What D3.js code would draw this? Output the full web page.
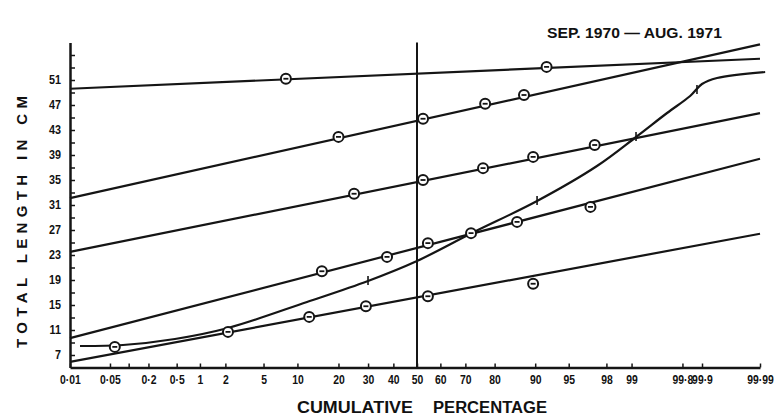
<!DOCTYPE html>
<html>
<head>
<meta charset="utf-8">
<style>
  body { margin: 0; background: #fff; }
  svg text { font-family: "Liberation Sans", Arial, sans-serif; font-weight: bold; fill: #111; }
</style>
</head>
<body>
<svg id="chart" width="780" height="415"></svg>
<script src="https://d3js.org/d3.v7.min.js"></script>
<script>
// probability axis: tick positions (percent) and the printed labels
var xTicks  = [0.01, 0.05, 0.1, 0.2, 0.5, 1, 2, 5, 10, 20, 30, 40, 50, 60, 70, 80, 90, 95, 98, 99, 99.8, 99.9, 99.99];
var xLabels = ["0·01", "0·05", "", "0·2", "0·5", "1", "2", "5", "10", "20", "30", "40", "50", "60", "70", "80", "90", "95", "98", "99", "99·8", "99·9", "99·99"];

// length axis (cm)
var yTicks  = [7, 9, 11, 13, 15, 17, 19, 21, 23, 25, 27, 29, 31, 33, 35, 37, 39, 41, 43, 45, 47, 49, 51, 53, 55];
var yLabels = [7, 11, 15, 19, 23, 27, 31, 35, 39, 43, 47, 51];

// fitted straight lines: length at 0.01 % and at 99.99 %
var fitEnds = [0.01, 99.99];
var fitA = [49.6, 54.4];
var fitB = [32.1, 56.7];
var fitC = [23.5, 45.7];
var fitD = [9.7, 38.4];
var fitE = [5.9, 26.4];

// observed points [percent, cm] for each line
var ptsA = [[8, 51.2], [92, 53.1]];
var ptsB = [[20, 41.9], [52.6, 44.8], [77, 47.2], [87.7, 48.6]];
var ptsC = [[25, 32.8], [52.6, 35.0], [76.3, 36.9], [89.6, 38.7], [97.3, 40.6]];
var ptsD = [[15.4, 20.4], [37.4, 22.7], [54.7, 24.9], [72.1, 26.5], [86.1, 28.3], [97.0, 30.7]];
var ptsE = [[0.06, 8.3], [2.14, 10.7], [12.4, 13.1], [29.2, 14.8], [54.7, 16.4], [89.6, 18.4]];

// the pooled S-shaped curve
var curvePct = [0.0152, 0.0814, 0.474, 2.14, 11.92, 29.98, 50, 72.46, 90.35, 97.45, 99.122, 99.665, 99.847, 99.900, 99.943, 99.992];
var curveCm  = [8.44, 8.6, 9.56, 11.32, 15.48, 18.84, 22.04, 26.52, 31.64, 37.24, 41.88, 45.72, 48.44, 50.36, 51.32, 52.28];
// little cross strokes on the curve
var markPct = [29.98, 90.35, 99.122, 99.88];
var markCm  = [18.84, 31.64, 41.88, 49.4];

// inverse normal (Acklam), turns a probability into a z value
function probit(p) {
  var a = [-3.969683028665376e+01, 2.209460984245205e+02, -2.759285104469687e+02, 1.383577518672690e+02, -3.066479806614716e+01, 2.506628277459239e+00];
  var b = [-5.447609879822406e+01, 1.615858368580409e+02, -1.556989798598866e+02, 6.680131188771972e+01, -1.328068155288572e+01];
  var c = [-7.784894002430293e-03, -3.223964580411365e-01, -2.400758277161838e+00, -2.549732539343734e+00, 4.374664141464968e+00, 2.938163982698783e+00];
  var d = [7.784695709041462e-03, 3.224671290700398e-01, 2.445134137142996e+00, 3.754408661907416e+00];
  var pl = 0.02425, q, r;
  if (p < pl) {
    q = Math.sqrt(-2 * Math.log(p));
    return (((((c[0]*q+c[1])*q+c[2])*q+c[3])*q+c[4])*q+c[5]) / ((((d[0]*q+d[1])*q+d[2])*q+d[3])*q+1);
  }
  if (p > 1 - pl) {
    q = Math.sqrt(-2 * Math.log(1 - p));
    return -(((((c[0]*q+c[1])*q+c[2])*q+c[3])*q+c[4])*q+c[5]) / ((((d[0]*q+d[1])*q+d[2])*q+d[3])*q+1);
  }
  q = p - 0.5; r = q * q;
  return (((((a[0]*r+a[1])*r+a[2])*r+a[3])*r+a[4])*r+a[5])*q / (((((b[0]*r+b[1])*r+b[2])*r+b[3])*r+b[4])*r+1);
}

var svg = d3.select("#chart");

var x = d3.scaleLinear().domain([probit(0.0001), 0, probit(0.9999)]).range([70, 417, 760]);
var y = d3.scaleLinear().domain([5, 57]).range([367.5, 42.5]);
function px(pct) { return x(probit(pct / 100)); }

var ink = "#151515";

// x axis, ticks pointing up into the plot
var xAxis = svg.append("g")
  .attr("transform", "translate(0," + y(5) + ")")
  .call(d3.axisBottom(x)
    .tickValues(xTicks.map(function(p) { return probit(p / 100); }))
    .tickFormat(function(d, i) { return xLabels[i]; })
    .tickSizeInner(-4).tickSizeOuter(0).tickPadding(7));
xAxis.select(".domain").attr("stroke", ink).attr("stroke-width", 2.5);
xAxis.selectAll(".tick line").attr("stroke", ink).attr("stroke-width", 1.5);
xAxis.selectAll(".tick text")
  .attr("font-size", 13).attr("font-family", null)
  .attr("transform", "scale(0.8,1)");

// y axis, ticks pointing right
var yAxis = svg.append("g")
  .attr("transform", "translate(70,0)")
  .call(d3.axisLeft(y)
    .tickValues(yTicks)
    .tickFormat(function(d) { return yLabels.indexOf(d) >= 0 ? d : ""; })
    .tickSizeInner(-5).tickSizeOuter(0).tickPadding(10));
yAxis.select(".domain").attr("stroke", ink).attr("stroke-width", 2.5);
yAxis.selectAll(".tick line").attr("stroke", ink).attr("stroke-width", 1.5);
yAxis.selectAll(".tick text")
  .attr("font-size", 12).attr("font-family", null)
  .attr("transform", "scale(0.9,1)");

// 50 % line
svg.append("line")
  .attr("x1", px(50)).attr("x2", px(50))
  .attr("y1", y(57)).attr("y2", y(5))
  .attr("stroke", ink).attr("stroke-width", 2);

var line = d3.line()
  .x(function(d) { return px(d[0]); })
  .y(function(d) { return y(d[1]); });

// fitted lines
[fitA, fitB, fitC, fitD, fitE].forEach(function(f) {
  svg.append("path")
    .datum([[fitEnds[0], f[0]], [fitEnds[1], f[1]]])
    .attr("d", line)
    .attr("fill", "none").attr("stroke", ink).attr("stroke-width", 2.2);
});

// S curve
var curveData = curvePct.map(function(p, i) { return [p, curveCm[i]]; });
svg.append("path")
  .datum(curveData)
  .attr("d", line.curve(d3.curveCatmullRom.alpha(0.5)))
  .attr("fill", "none").attr("stroke", ink).attr("stroke-width", 2.2);

svg.selectAll(".mark")
  .data(markPct.map(function(p, i) { return [p, markCm[i]]; }))
  .enter().append("line")
  .attr("class", "mark")
  .attr("x1", function(d) { return px(d[0]); })
  .attr("x2", function(d) { return px(d[0]); })
  .attr("y1", function(d) { return y(d[1]) - 5; })
  .attr("y2", function(d) { return y(d[1]) + 4; })
  .attr("stroke", ink).attr("stroke-width", 1.6);

// observed points
var allPts = [].concat(ptsA, ptsB, ptsC, ptsD, ptsE);
var dots = svg.selectAll(".pt").data(allPts).enter().append("g")
  .attr("class", "pt")
  .attr("transform", function(d) { return "translate(" + px(d[0]) + "," + y(d[1]) + ")"; });
dots.append("circle").attr("r", 5)
  .attr("fill", "#fff").attr("stroke", ink).attr("stroke-width", 2);
dots.append("line").attr("x1", -2.5).attr("x2", 2.5)
  .attr("stroke", ink).attr("stroke-width", 1.8);

// titles
svg.append("text")
  .attr("x", 547).attr("y", 38)
  .attr("font-size", 15)
  .attr("textLength", 175).attr("lengthAdjust", "spacingAndGlyphs")
  .text("SEP. 1970 — AUG. 1971");

svg.append("text")
  .attr("transform", "translate(27,222) rotate(-90)")
  .attr("text-anchor", "middle")
  .attr("font-size", 15)
  .attr("textLength", 252).attr("lengthAdjust", "spacing")
  .text("TOTAL LENGTH IN CM");

svg.append("text")
  .attr("x", 297).attr("y", 413)
  .attr("font-size", 16)
  .attr("textLength", 116).attr("lengthAdjust", "spacingAndGlyphs")
  .text("CUMULATIVE");
svg.append("text")
  .attr("x", 433).attr("y", 413)
  .attr("font-size", 16)
  .attr("textLength", 114).attr("lengthAdjust", "spacingAndGlyphs")
  .text("PERCENTAGE");
</script>
</body>
</html>
